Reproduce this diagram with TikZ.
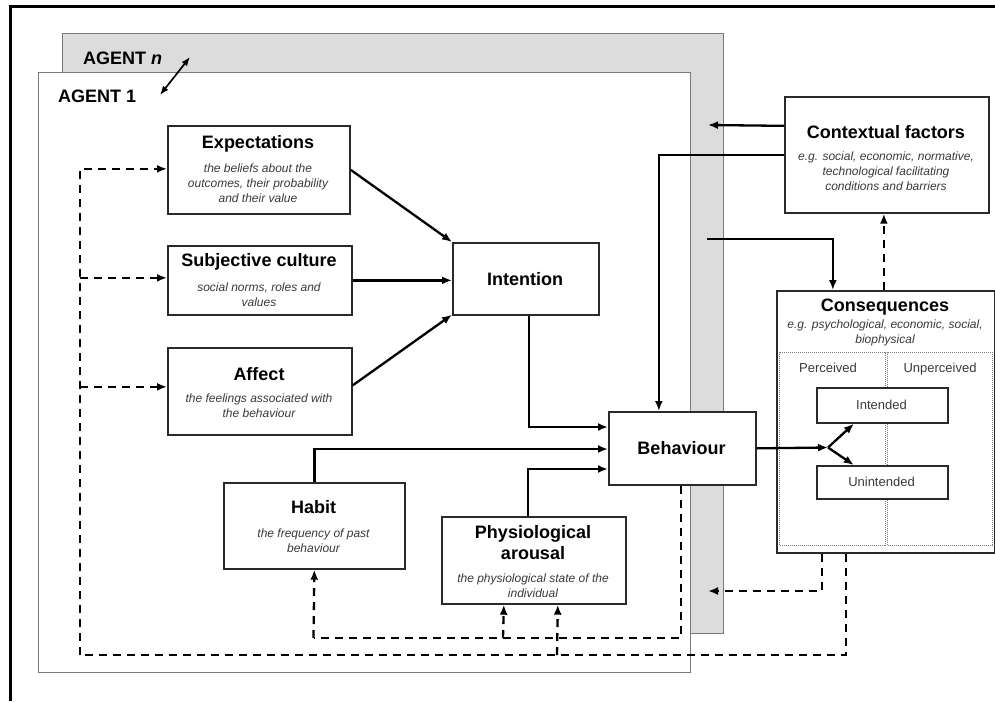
\documentclass[tikz,border=0pt]{standalone}
\usepackage{fontspec}
\setmainfont{Liberation Sans}
\usetikzlibrary{arrows.meta,calc}
\definecolor{boxc}{HTML}{2A2A2A}
\definecolor{descc}{HTML}{3A3A3A}
\definecolor{agentfill}{HTML}{DCDCDC}
\definecolor{agentline}{HTML}{7A7A7A}
\begin{document}
\begin{tikzpicture}[x=1pt,y=-1pt,
  box/.style={draw=boxc, line width=1.7pt, fill=white, inner sep=0pt, anchor=north west},
  agentbox/.style={draw=agentline, line width=1.1pt, inner sep=0pt, anchor=north west},
  dotbox/.style={draw=agentline, densely dotted, line width=1pt, inner sep=0pt, anchor=north west},
  ttl/.style={font=\fontsize{18}{21}\selectfont\bfseries, align=center, inner sep=0pt},
  dsc/.style={font=\fontsize{12}{15}\selectfont\itshape, text=descc, align=center, inner sep=0pt},
  lbl/.style={font=\fontsize{13}{16}\selectfont, text=descc, inner sep=0pt, anchor=base},
  con/.style={line width=2.3pt, black},
  arr/.style={con, -{Latex[length=10pt,width=8pt]}},
  dsh/.style={line width=2.3pt, black, dash pattern=on 8pt off 6pt},
  darr/.style={dsh, -{Latex[length=10pt,width=8pt]}},
  dbl/.style={line width=1.7pt, black, {Latex[length=9pt,width=7pt]}-{Latex[length=9pt,width=7pt]}}
]
\useasboundingbox (0,0) rectangle (995,701);
\fill[white] (0,0) rectangle (995,701);

% outer frame
\draw[line width=3pt, black] (995,7) -- (10,7) -- (10,701);

% agents
\node[agentbox, fill=agentfill, minimum width=661pt, minimum height=600pt] (agentn) at (62,33) {};
\node[agentbox, fill=white, minimum width=652pt, minimum height=600pt] (agent1) at (38,72) {};
\node[font=\fontsize{18}{21}\selectfont\bfseries, anchor=west, inner sep=0pt] (agentnlbl) at (83,58) {AGENT \textit{n}};
\node[font=\fontsize{18}{21}\selectfont\bfseries, anchor=west, inner sep=0pt] (agent1lbl) at (58,96) {AGENT 1};
\coordinate (da) at (160,95);
\coordinate (db) at (190,57);
\draw[dbl] (da) -- (db);

% boxes
\node[box, minimum width=182pt, minimum height=88pt] (exp) at (167,125) {};
\node[box, minimum width=184pt, minimum height=69pt] (subj) at (167,245) {};
\node[box, minimum width=184pt, minimum height=87pt] (aff) at (167,347) {};
\node[box, minimum width=146pt, minimum height=72pt] (intent) at (452,242) {};
\node[box, minimum width=147pt, minimum height=73pt] (behav) at (608,411) {};
\node[box, minimum width=181pt, minimum height=86pt] (habit) at (223,482) {};
\node[box, minimum width=184pt, minimum height=87pt] (phys) at (441,516) {};
\node[box, minimum width=204pt, minimum height=116pt] (ctx) at (784,96) {};
\node[box, minimum width=218pt, minimum height=262pt] (cons) at (776,290) {};
\node[dotbox, minimum width=106pt, minimum height=193pt] (perc) at (779,352) {};
\node[dotbox, minimum width=105pt, minimum height=193pt] (unperc) at (887,352) {};
\node[box, minimum width=131pt, minimum height=35pt] (intd) at (816,387) {};
\node[box, minimum width=131pt, minimum height=33pt] (unintd) at (816,465) {};

% texts
\node[ttl] (expt) at (258,144) {Expectations};
\node[dsc] (expd) at (258,183) {the beliefs about the\\outcomes, their probability\\and their value};
\node[ttl] (subjt) at (259,262) {Subjective culture};
\node[dsc] (subjd) at (259,295) {social norms, roles and\\values};
\node[ttl] (afft) at (259,374) {Affect};
\node[dsc] (affd) at (259,405.5) {the feelings associated with\\the behaviour};
\node[ttl] (intentt) at (525,279) {Intention};
\node[ttl] (behavt) at (681.5,448) {Behaviour};
\node[ttl] (habitt) at (313.5,507) {Habit};
\node[dsc] (habitd) at (313.5,540.5) {the frequency of past\\behaviour};
\node[ttl] (physt) at (533,542.5) {Physiological\\arousal};
\node[dsc] (physd) at (533,585.5) {the physiological state of the\\individual};
\node[ttl] (ctxt) at (886,132) {Contextual factors};
\node[dsc] (ctxd) at (886,171) {e.g. social, economic, normative,\\technological facilitating\\conditions and barriers};
\node[ttl] (const) at (885,307) {Consequences};
\node[dsc] (consd) at (885,333) {e.g. psychological, economic, social,\\biophysical};
\node[lbl] (perct) at (828,372) {Perceived};
\node[lbl] (unperct) at (940,372) {Unperceived};
\node[lbl] (intdt) at (881.5,409.5) {Intended};
\node[lbl] (unintdt) at (881.5,486.5) {Unintended};

% coordinates for free ends / bends
\coordinate (ibend) at (608,427);
\coordinate (hbend) at (608,449);
\coordinate (pbend) at (608,469);
\coordinate (ctxtip) at (708,125);
\coordinate (agsrc) at (707,239);
\coordinate (split) at (828,447.5);
\coordinate (hb) at (313.5,638);
\coordinate (pb1) at (503,638);
\coordinate (pb2) at (557,655);
\coordinate (antip) at (708,591);
\coordinate (lc) at (80,655);

% solid connectors
\draw[arr] (exp.east) -- (intent.north west);
\draw[arr] (subj.east) -- (subj.east -| intent.west);
\draw[arr] ([yshift=6pt]aff.east) -- ([yshift=1pt]intent.south west);
\draw[arr] ([xshift=3pt]intent.south) |- (ibend);
\draw[arr] (habit.north) |- (hbend);
\draw[arr] ([xshift=-6pt]phys.north) |- (pbend);
\draw[arr] ([yshift=29pt]ctx.west) -- (ctxtip);
\draw[arr] (ctx.west) -| ([xshift=-23.5pt]behav.north);
\draw[arr] (agsrc) -| ([xshift=-53pt]cons.north);
\draw[arr] (behav.east) -- (split);
\draw[arr] (split) -- ([xshift=-28.5pt]intd.south);
\draw[arr] (split) -- ([xshift=-28.5pt]unintd.north);

% dashed connectors
\draw[darr] ([xshift=-2pt]cons.north) -- ([xshift=-2pt]cons.north |- ctx.south);
\draw[dsh] ([xshift=-1.5pt]behav.south) |- (hb);
\draw[darr] (hb) -- (habit.south);
\draw[darr] (pb1) -- ([xshift=-30pt]phys.south);
\draw[darr] ([xshift=-64pt]cons.south) |- (antip);
\draw[dsh] ([xshift=-40pt]cons.south) |- (lc);
\draw[darr] (lc) |- ([yshift=1pt]exp.west);
\draw[darr] (pb2) -- ([xshift=24pt]phys.south);
\draw[darr] ([yshift=2.5pt]subj.west -| lc) -- ([yshift=2.5pt]subj.west);
\draw[darr] ([yshift=4.5pt]aff.west -| lc) -- ([yshift=4.5pt]aff.west);
\end{tikzpicture}
\end{document}
